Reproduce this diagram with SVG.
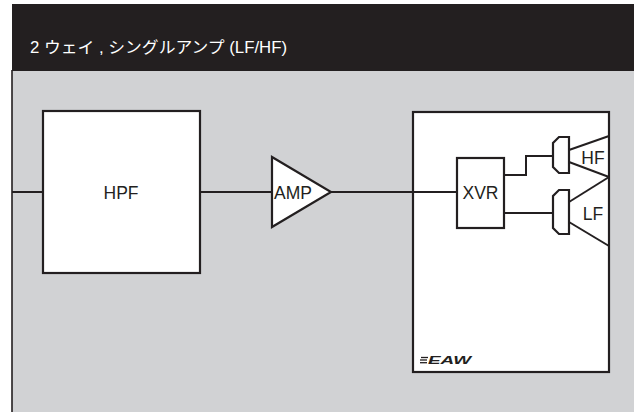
<svg xmlns="http://www.w3.org/2000/svg" width="634" height="412" viewBox="0 0 634 412">
<style>
.ln{fill:none;stroke:#231f20;stroke-width:2}
.bx{fill:#ffffff;stroke:#231f20;stroke-width:2.2}
.lb{font-family:"Liberation Sans",Arial,sans-serif;font-size:17.5px;fill:#231f20}
.hd{font-family:"Liberation Sans","Noto Sans CJK JP",sans-serif;font-size:16px;fill:#ffffff}
</style>
<rect x="0" y="0" width="634" height="412" fill="#ffffff"/>
<rect x="12" y="70" width="622" height="342" fill="#d1d2d4"/>
<rect x="12" y="4" width="622" height="67" fill="#231f20"/>
<line x1="12" y1="70" x2="12" y2="412" stroke="#231f20" stroke-width="1.6"/>
<text class="hd" x="30" y="52.5" textLength="257" lengthAdjust="spacingAndGlyphs">2 ウェイ , シングルアンプ (LF/HF)</text>
<g id="hpf">
<rect class="bx" x="43" y="111" width="157" height="162"/>
<text class="lb" x="121" y="198.5" text-anchor="middle">HPF</text>
</g>
<g id="cabinet">
<rect class="bx" x="413" y="112" width="196" height="260"/>
<g id="eaw-logo">
<line x1="421" y1="357.5" x2="428" y2="357.5" stroke="#231f20" stroke-width="1.3"/>
<line x1="420" y1="360" x2="427" y2="360" stroke="#231f20" stroke-width="1.3"/>
<line x1="420" y1="362.7" x2="427" y2="362.7" stroke="#231f20" stroke-width="1.3"/>
<text x="428" y="364" font-family="Liberation Sans,Arial,sans-serif" font-size="11" font-weight="bold" font-style="italic" fill="#231f20" textLength="43" lengthAdjust="spacingAndGlyphs">EAW</text>
</g>
</g>
<g id="connectors">
<line class="ln" x1="12" y1="192" x2="43" y2="192"/>
<line class="ln" x1="200" y1="192" x2="272" y2="192"/>
<line class="ln" x1="331" y1="192" x2="457" y2="192"/>
<polyline class="ln" points="504,175 526,175 526,156 553,156"/>
<line class="ln" x1="504" y1="213" x2="553" y2="213"/>
</g>
<g id="amp">
<polygon class="bx" points="272,157 331,192 272,227"/>
<text class="lb" x="274" y="198.5">AMP</text>
</g>
<g id="xvr">
<rect class="bx" x="457" y="158" width="47" height="70"/>
<text class="lb" x="480.5" y="198.5" text-anchor="middle">XVR</text>
</g>
<g id="hf">
<polygon class="bx" points="559,137 569,137 569,173 559,173 553,167 553,143"/>
<polyline class="ln" points="569,150 609,136"/>
<polyline class="ln" points="569,162 609,177"/>
<text class="lb" x="593" y="163.5" text-anchor="middle">HF</text>
</g>
<g id="lf">
<polygon class="bx" points="559,190 569,190 569,234 559,234 553,228 553,196"/>
<polyline class="ln" points="569,202 609,177"/>
<polyline class="ln" points="569,222 609,246"/>
<text class="lb" x="593" y="220" text-anchor="middle">LF</text>
</g>
</svg>
